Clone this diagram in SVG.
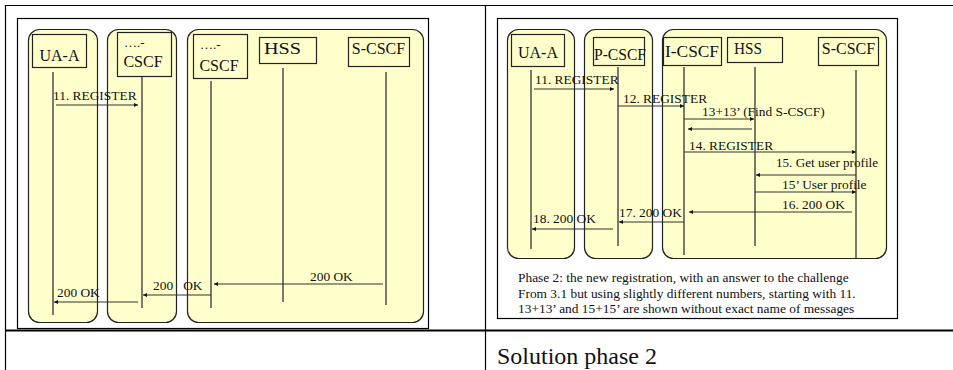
<svg xmlns="http://www.w3.org/2000/svg" width="953" height="370" viewBox="0 0 953 370">
<defs>
<style>
text{font-family:"Liberation Serif","Times New Roman",serif;fill:#111}
.tbl{stroke:#000;stroke-width:1.2;fill:none}
.frame{fill:#fff;stroke:#000;stroke-width:1.2}
.lane{fill:#ffffcc;stroke:#222;stroke-width:1.2}
.box{fill:#ffffcc;stroke:#222;stroke-width:1.2}
.life{stroke:#333;stroke-width:1.3;fill:none}
.msg{stroke:#333;stroke-width:1.2;fill:none;marker-end:url(#ah)}
.nm{font-size:16px}
.lb{font-size:13.4px}
.note{font-size:13.4px}
</style>
<marker id="ah" viewBox="0 0 10 10" refX="10" refY="5" markerWidth="5" markerHeight="4" markerUnits="userSpaceOnUse" orient="auto">
<path d="M0,0 L10,5 L0,10 z" fill="#111"/>
</marker>
</defs>
<g id="table">
<line class="tbl" x1="5" y1="5.5" x2="953" y2="5.5"/>
<line class="tbl" x1="5.5" y1="5" x2="5.5" y2="370"/>
<line class="tbl" x1="485.5" y1="5" x2="485.5" y2="370"/>
<line x1="5" y1="330.5" x2="953" y2="330.5" stroke="#000" stroke-width="2"/>
<text x="497" y="364" style="font-size:24px">Solution phase 2</text>
</g>
<g id="left-diagram">
<rect class="frame" x="17.5" y="18.5" width="411" height="310"/>
<g id="l-lane1"><rect class="lane" x="28.5" y="29.5" width="69" height="293" rx="11"/></g>
<g id="l-lane2"><rect class="lane" x="107.5" y="29.5" width="69" height="293" rx="11"/></g>
<g id="l-lane3"><rect class="lane" x="187.5" y="29.5" width="236" height="293" rx="11"/></g>
<g id="l-uaa"><rect class="box" x="32.5" y="34.5" width="54" height="33"/><text class="nm" x="59.5" y="61" text-anchor="middle">UA-A</text></g>
<g id="l-cscf1"><rect class="box" x="117.5" y="32.5" width="54" height="44"/><text x="124" y="47" style="font-size:13px">….-</text><text class="nm" x="143" y="67" text-anchor="middle">CSCF</text></g>
<g id="l-cscf2"><rect class="box" x="193.5" y="34.5" width="54" height="44"/><text x="200" y="49" style="font-size:13px">….-</text><text class="nm" x="219" y="71" text-anchor="middle">CSCF</text></g>
<g id="l-hss"><rect class="box" x="259.5" y="37.5" width="57" height="26"/><text x="264" y="54" style="font-size:17px" textLength="37" lengthAdjust="spacingAndGlyphs">HSS</text></g>
<g id="l-scscf"><rect class="box" x="348.5" y="37.5" width="61" height="29"/><text class="nm" x="378.5" y="54" text-anchor="middle">S-CSCF</text></g>
<g id="l-connectors">
<line class="life" x1="53" y1="72" x2="53" y2="315"/>
<line class="life" x1="142" y1="77" x2="142" y2="308"/>
<line class="life" x1="211" y1="81" x2="211" y2="308"/>
<line class="life" x1="283" y1="68" x2="283" y2="302"/>
<line class="life" x1="386" y1="72" x2="386" y2="305"/>
<line class="msg" x1="56" y1="105" x2="138" y2="105"/>
<line class="msg" x1="383" y1="284" x2="214" y2="284"/>
<line class="msg" x1="211" y1="295" x2="143" y2="295"/>
<line class="msg" x1="138" y1="302" x2="54" y2="302"/>
</g>
<text class="lb" x="53" y="100">11. REGISTER</text>
<text class="lb" x="310" y="281">200 OK</text>
<text class="lb" x="153" y="290" style="white-space:pre">200   OK</text>
<text class="lb" x="57" y="297">200 OK</text>
</g>
<g id="right-diagram">
<rect class="frame" x="497.5" y="18.5" width="400" height="300"/>
<g id="r-lane1"><rect class="lane" x="507.5" y="29.5" width="67" height="229" rx="11"/></g>
<g id="r-lane2"><rect class="lane" x="584.5" y="29.5" width="68" height="229" rx="11"/></g>
<g id="r-lane3"><rect class="lane" x="662.5" y="29.5" width="224" height="229" rx="11"/></g>
<g id="r-uaa"><rect class="box" x="511.5" y="34.5" width="53" height="32"/><text class="nm" x="538" y="58" text-anchor="middle">UA-A</text></g>
<g id="r-pcscf"><rect class="box" x="593.5" y="37.5" width="51" height="28"/><text class="nm" x="594" y="60" textLength="52" lengthAdjust="spacingAndGlyphs">P-CSCF</text></g>
<g id="r-icscf"><rect class="box" x="663.5" y="37.5" width="58" height="28"/><text class="nm" x="665" y="57" textLength="54" lengthAdjust="spacingAndGlyphs">I-CSCF</text></g>
<g id="r-hss"><rect class="box" x="727.5" y="37.5" width="55" height="25"/><text class="nm" x="734" y="54" textLength="28" lengthAdjust="spacingAndGlyphs">HSS</text></g>
<g id="r-scscf"><rect class="box" x="818.5" y="37.5" width="60" height="28"/><text class="nm" x="848.5" y="54" text-anchor="middle">S-CSCF</text></g>
<g id="r-connectors">
<line class="life" x1="531" y1="70" x2="531" y2="249"/>
<line class="life" x1="618" y1="67" x2="618" y2="246"/>
<line class="life" x1="684" y1="67" x2="684" y2="255"/>
<line class="life" x1="755" y1="67" x2="755" y2="246"/>
<line class="life" x1="856" y1="70" x2="856" y2="258"/>
<line class="msg" x1="534" y1="89" x2="614" y2="89"/>
<line class="msg" x1="618" y1="106" x2="684" y2="106"/>
<line class="msg" x1="684" y1="119" x2="754" y2="119"/>
<line class="msg" x1="752" y1="129" x2="688" y2="129"/>
<line class="msg" x1="684" y1="152" x2="856" y2="152"/>
<line class="msg" x1="856" y1="175" x2="756" y2="175"/>
<line class="msg" x1="755" y1="192" x2="856" y2="192"/>
<line class="msg" x1="852" y1="212" x2="689" y2="212"/>
<line class="msg" x1="684" y1="222" x2="619" y2="222"/>
<line class="msg" x1="613" y1="229" x2="532" y2="229"/>
</g>
<text class="lb" x="535" y="84">11. REGISTER</text>
<text class="lb" x="623" y="103">12. REGISTER</text>
<text class="lb" x="702" y="116">13+13’ (Find S-CSCF)</text>
<text class="lb" x="689" y="150">14. REGISTER</text>
<text class="lb" x="776" y="167" textLength="102" lengthAdjust="spacingAndGlyphs">15. Get user profile</text>
<text class="lb" x="782" y="189">15’ User profile</text>
<text class="lb" x="782" y="209">16. 200 OK</text>
<text class="lb" x="619" y="217">17. 200 OK</text>
<text class="lb" x="533" y="223">18. 200 OK</text>
<text class="note" x="518" y="282">Phase 2: the new registration, with an answer to the challenge</text>
<text class="note" x="518" y="298">From 3.1 but using slightly different numbers, starting with 11.</text>
<text class="note" x="518" y="313">13+13’ and 15+15’ are shown without exact name of messages</text>
</g>
</svg>
